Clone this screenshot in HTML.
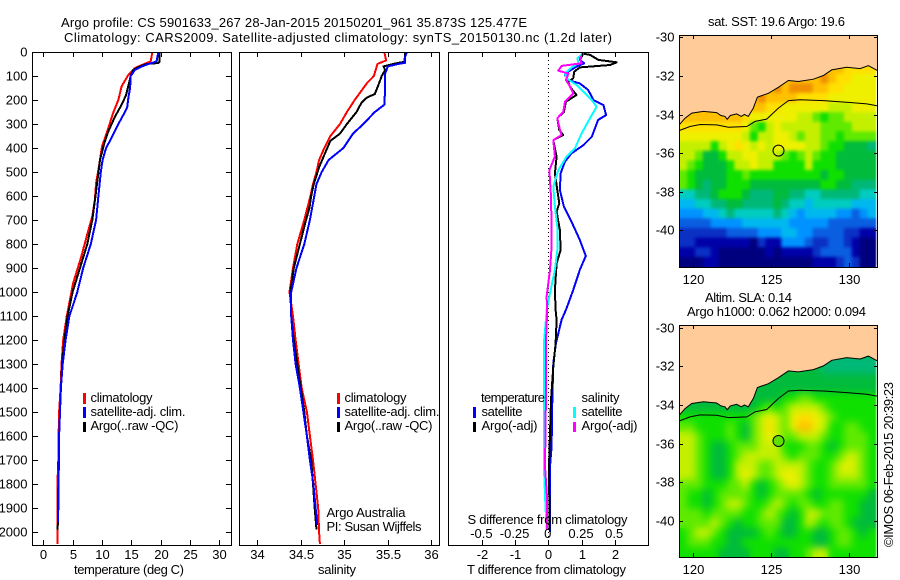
<!DOCTYPE html>
<html>
<head>
<meta charset="utf-8">
<title>Argo profile</title>
<style>
html,body{margin:0;padding:0;background:#fff}
svg{display:block}
text{font-family:"Liberation Sans",sans-serif;font-size:13px;fill:#000}
.frame{fill:none;stroke:#000;stroke-width:1;shape-rendering:crispEdges}
.tick{stroke:#000;stroke-width:1;shape-rendering:crispEdges}
.prof{fill:none;stroke-width:2;shape-rendering:crispEdges;stroke-linejoin:round}
</style>
</head>
<body>
<svg id="chart" xmlns="http://www.w3.org/2000/svg" width="900" height="580" viewBox="0 0 900 580">
<defs>
<clipPath id="clip-temp"><rect x="33" y="52" width="198" height="493"/></clipPath>
<clipPath id="clip-sal"><rect x="240" y="52" width="199" height="493"/></clipPath>
<clipPath id="clip-diff"><rect x="449" y="52" width="199" height="493"/></clipPath>
<clipPath id="clip-sst"><rect x="679.5" y="35.5" width="197.5" height="231.5"/></clipPath>
<clipPath id="clip-sla"><rect x="679.5" y="325.5" width="197.5" height="231.5"/></clipPath>
<filter id="soft-sst" x="-5%" y="-5%" width="110%" height="110%" color-interpolation-filters="sRGB">
<feGaussianBlur in="SourceGraphic" stdDeviation="1.6" result="b"/>
<feMerge><feMergeNode in="SourceGraphic"/><feMergeNode in="b"/></feMerge>
</filter>
<filter id="soft-sla" x="-5%" y="-5%" width="110%" height="110%" color-interpolation-filters="sRGB">
<feGaussianBlur in="SourceGraphic" stdDeviation="4" result="b"/>
<feMerge><feMergeNode in="SourceGraphic"/><feMergeNode in="b"/></feMerge>
</filter>
</defs>
<text x="61" y="27" textLength="466" lengthAdjust="spacing">Argo profile: CS 5901633_267 28-Jan-2015 20150201_961 35.873S 125.477E</text>
<text x="64" y="42" textLength="548" lengthAdjust="spacing">Climatology: CARS2009. Satellite-adjusted climatology: synTS_20150130.nc (1.2d later)</text>

<g id="map-sst"></g>
<g id="map-sla"></g>
<g id="lines-temp" clip-path="url(#clip-temp)"></g>
<g id="lines-sal" clip-path="url(#clip-sal)"></g>
<g id="lines-diff" clip-path="url(#clip-diff)"></g>
<g id="axes"></g>

<rect class="frame" x="32.5" y="52.5" width="199" height="493"/>
<rect class="frame" x="239.5" y="52.5" width="200" height="493"/>
<rect class="frame" x="448.5" y="52.5" width="200" height="493"/>
<rect class="frame" x="679.5" y="35.5" width="198" height="232"/>
<rect class="frame" x="679.5" y="325.5" width="198" height="232"/>

<text x="74" y="574" textLength="110" lengthAdjust="spacing">temperature (deg C)</text>
<text x="318" y="574" textLength="38" lengthAdjust="spacing">salinity</text>
<text x="467" y="574" textLength="159" lengthAdjust="spacing">T difference from climatology</text>
<text x="467.5" y="524" textLength="160" lengthAdjust="spacing">S difference from climatology</text>

<g>
<rect x="83" y="393" width="3" height="11" fill="#f00"/>
<text x="90.5" y="402" textLength="62" lengthAdjust="spacing">climatology</text>
<rect x="83" y="407" width="3" height="11" fill="#00f"/>
<text x="90.5" y="416" textLength="95" lengthAdjust="spacing">satellite-adj. clim.</text>
<rect x="83" y="422" width="3" height="10" fill="#000"/>
<text x="90.5" y="430" textLength="88" lengthAdjust="spacing">Argo(..raw -QC)</text>
</g>
<g>
<rect x="337" y="393" width="3" height="11" fill="#f00"/>
<text x="344.5" y="402" textLength="62" lengthAdjust="spacing">climatology</text>
<rect x="337" y="407" width="3" height="11" fill="#00f"/>
<text x="344.5" y="416" textLength="95" lengthAdjust="spacing">satellite-adj. clim.</text>
<rect x="337" y="422" width="3" height="10" fill="#000"/>
<text x="344.5" y="430" textLength="88" lengthAdjust="spacing">Argo(..raw -QC)</text>
<text x="326.5" y="517" textLength="79" lengthAdjust="spacing">Argo Australia</text>
<text x="326.5" y="531" textLength="95" lengthAdjust="spacing">PI: Susan Wijffels</text>
</g>
<g>
<text x="481" y="402" textLength="64" lengthAdjust="spacing">temperature</text>
<rect x="473" y="407" width="3" height="11" fill="#00f"/>
<text x="481.5" y="416" textLength="41" lengthAdjust="spacing">satellite</text>
<rect x="473" y="422" width="3" height="10" fill="#000"/>
<text x="481.5" y="430" textLength="56" lengthAdjust="spacing">Argo(-adj)</text>
<text x="581.5" y="402" textLength="38" lengthAdjust="spacing">salinity</text>
<rect x="573" y="407" width="3" height="11" fill="#0ff"/>
<text x="581.5" y="416" textLength="41" lengthAdjust="spacing">satellite</text>
<rect x="573" y="422" width="3" height="10" fill="#f0f"/>
<text x="581.5" y="430" textLength="56" lengthAdjust="spacing">Argo(-adj)</text>
</g>

<text x="708" y="26" textLength="137" lengthAdjust="spacing">sat. SST: 19.6 Argo: 19.6</text>
<text x="705" y="302" textLength="87" lengthAdjust="spacing">Altim. SLA: 0.14</text>
<text x="687" y="316" textLength="179" lengthAdjust="spacing">Argo h1000: 0.062 h2000: 0.094</text>
<text transform="translate(893,547) rotate(-90)" x="0" y="0" textLength="165" lengthAdjust="spacing">©IMOS 06-Feb-2015 20:39:23</text>
</svg>
<script>
// ---- profile data: depths in metres ----
var tempClimDepth=[0,39,46,67,95,143,199,254,338,393,476,546,615,685,754,851,962,1018,1100,1200,1300,1400,1500,1600,1700,1800,1900,2000,2050];
var tempClimValue=[18.6,18.3,17.6,15.6,14.5,13.35,12.8,11.9,10.8,10,9.5,9,8.8,8.35,7.55,6.5,5.1,4.66,4,3.4,3.1,2.95,2.7,2.6,2.55,2.4,2.4,2.4,2.4];
var tempArgoDepth=[0,40,46,50,60,75,100,140,180,220,270,330,380,450,520,600,700,800,900,1000,1100,1200,1300,1400,1500,1600,1700,1800,1900,1990];
var tempArgoValue=[19.8,19.8,19.6,17.6,16.5,15.3,14.9,14.5,14.1,13.35,12.2,11.1,10.4,9.66,9.3,8.9,8.35,7.5,6.25,5,4.15,3.6,3.2,3,2.85,2.7,2.65,2.55,2.5,2.45];
var tempSatDepth=[0,40,50,60,75,100,150,190,230,250,300,350,400,450,500,600,700,800,900,1000,1030,1100,1200,1300,1400,1500,1600,1700,1800,1900,1960];
var tempSatValue=[19.6,19.3,17.9,16.8,15.6,14.9,14.8,14.5,14.3,13.9,12.8,11.8,10.7,10.1,9.8,9.4,9,8.1,6.8,5.8,5.4,4.45,3.8,3.3,3,2.85,2.7,2.7,2.55,2.55,2.5];

var salClimDepth=[0,35,50,100,130,200,250,300,350,400,450,500,550,600,700,750,800,900,1000,1100,1200,1300,1400,1500,1600,1700,1800,1900,2000,2050];
var salClimValue=[35.46,35.48,35.38,35.34,35.26,35.12,35.03,34.95,34.84,34.77,34.71,34.68,34.64,34.61,34.54,34.5,34.46,34.41,34.37,34.41,34.44,34.475,34.51,34.57,34.605,34.64,34.67,34.7,34.71,34.72];
var salArgoDepth=[0,40,50,60,75,100,130,175,190,210,250,300,340,370,420,480,550,600,650,700,800,900,1000,1100,1200,1300,1400,1500,1600,1700,1800,1900,1990];
var salArgoValue=[35.7,35.7,35.56,35.45,35.47,35.43,35.4,35.35,35.26,35.2,35.14,35.03,34.95,34.84,34.78,34.71,34.65,34.62,34.6,34.56,34.49,34.42,34.38,34.39,34.42,34.46,34.5,34.54,34.57,34.62,34.64,34.66,34.68];
var salSatDepth=[0,30,45,50,60,90,150,220,250,300,340,400,450,500,550,600,700,800,900,1000,1100,1200,1300,1400,1500,1600,1700,1800,1900,1970];
var salSatValue=[35.72,35.69,35.7,35.62,35.5,35.47,35.47,35.46,35.35,35.22,35.1,34.99,34.82,34.74,34.68,34.655,34.605,34.54,34.45,34.39,34.39,34.41,34.44,34.49,34.53,34.57,34.605,34.645,34.67,34.69];

var diffTSatDepth=[6,33,47,61,82,96,117,131,158,200,221,263,283,353,388,422,457,506,575,644,707,783,850,908,992,1075,1116,1214,1297,1450,1644,1728,1867,1999];
var diffTSatValue=[1.06,.95,1.08,.85,.6,.5,.6,.95,1.2,1.36,1.66,1.74,1.5,1.31,1.06,.7,.5,.37,.35,.47,.7,.95,1.13,.95,.75,.53,.4,.23,.15,.12,.1,.05,.05,.05];
var diffTArgoDepth=[6,12,33,43,54,64,82,110,124,144,179,207,249,276,325,346,367,436,506,575,631,665,742,825,881,992,1075,1116,1214,1311,1450,1589,1728,1867,1992];
var diffTArgoValue=[1,1.26,1.51,2.06,1.86,.95,.78,.75,.6,.65,.85,.53,.47,.27,.33,.45,.15,.25,.2,.27,.33,.25,.35,.37,.25,.2,.22,.25,.22,.15,.08,.05,.02,.03,.03];
var diffSSatDepth=[6,26,47,64,89,110,138,165,200,228,276,339,401,436,492,561,644,728,825,908,1006,1075,1116,1214,1450,1728,1867,1992];
var diffSSatValue=[.264,.219,.226,.176,.126,.138,.214,.264,.327,.364,.314,.251,.201,.138,.075,.038,.05,.068,.068,.05,.013,-.013,-.018,-.033,-.033,-.033,-.023,-.013];
var diffSArgoDepth=[6,26,47,54,58,78,89,117,138,172,207,249,276,325,346,367,436,492,603,742,811,908,1019,1075,1214,1450,1728,1867,1992];
var diffSArgoValue=[.264,.239,.251,.151,.1,.075,.151,.133,.158,.188,.126,.113,.068,.088,.1,.038,.05,.008,.02,.025,.025,.013,-.013,-.008,-.018,-.018,-.025,-.008,-.008];

// ---- tick labels ----
var depthTicks=[0,100,200,300,400,500,600,700,800,900,1000,1100,1200,1300,1400,1500,1600,1700,1800,1900,2000];
var tempTicks=[0,5,10,15,20,25,30];
var salTicks=["34","34.5","35","35.5","36"];
var diffTTicks=["-2","-1","0","1","2"];
var diffSTicks=["-0.5","-0.25","0","0.25","0.5"];
var lonTicks=[120,125,130];
var latTicks=[-30,-32,-34,-36,-38,-40];

// ---- coast and shelf-edge ----
var coastLon=[119.15,119.51,119.94,120.68,121.53,121.8,122.06,122.2,122.4,122.81,123.1,123.3,123.55,123.87,124.13,124.83,125.47,126.11,126.74,127.7,128.34,128.87,129.83,130.68,131.21,131.79];
var coastLat=[-34.53,-34.19,-33.93,-33.84,-33.9,-34.05,-34.1,-34.25,-34.05,-33.97,-34.1,-34.0,-34.1,-33.67,-33.1,-32.9,-32.59,-32.24,-32.29,-32.17,-31.98,-31.69,-31.55,-31.62,-31.47,-31.72];
var shelfLon=[119.15,119.83,120.47,121.53,122.28,123.45,123.98,124.72,125.47,126.11,126.85,128.34,130.04,131.11,131.79];
var shelfLat=[-34.83,-34.62,-34.52,-34.54,-34.66,-34.62,-34.36,-34.24,-33.67,-33.28,-33.24,-33.28,-33.38,-33.45,-33.55];
var floatLon=125.477;
var floatLat=-35.873;

// ---- gridded fields, colour-level per 0.5-degree cell, north to south ----
var sstRows=[
[14,14,14,14,14,14,14,14,14,14,14,14,14,14,14,14,14,14,14,14,14,14,14,14,14],
[14,14,14,14,14,14,14,14,14,14,14,14,14,14,14,14,14,14,14,14,14,14,14,14,14],
[14,14,14,14,14,14,14,14,14,14,14,14,14,14,14,14,14,14,14,14,14,14,14,14,14],
[14,14,14,14,14,14,14,14,14,14,14,14,14,14,14,14,14,14,14,14,14,13,13,13,13],
[14,14,14,14,14,14,14,14,14,14,14,14,14,14,14,14,14,14,15,14,13,13,12,12,12],
[14,14,14,14,14,14,14,14,14,14,14,14,15,14,15,15,15,14,14,13,13,12,12,12,12],
[14,14,14,14,14,14,14,14,14,14,15,14,14,14,14,13,13,13,13,12,12,12,12,12,12],
[14,14,14,14,14,14,14,14,14,14,14,13,13,12,12,12,12,12,12,11,11,11,12,12,12],
[14,14,14,14,14,14,14,14,13,12,12,12,12,12,12,11,11,10,9,10,10,11,11,11,11],
[13,13,13,13,13,13,13,13,12,10,9,11,12,11,11,11,11,11,10,10,10,10,11,11,11],
[12,12,12,12,12,12,12,12,11,9,11,11,12,12,11,10,11,11,10,10,9,10,10,10,10],
[11,11,11,11,9,11,12,13,12,11,12,11,12,12,12,12,11,11,10,9,9,8,8,8,7],
[11,11,10,8,8,9,11,11,12,12,11,11,11,10,9,10,11,10,9,9,8,8,8,8,8],
[11,10,9,8,8,8,9,11,11,12,11,11,9,9,9,9,11,9,9,9,8,8,8,8,8],
[10,9,8,8,8,8,9,9,10,9,9,9,9,9,9,9,9,9,8,9,9,8,8,8,8],
[10,9,8,7,8,8,9,9,9,8,8,8,8,8,8,8,8,8,9,9,8,8,7,7,7],
[6,6,7,7,8,9,9,9,8,7,7,7,8,8,7,7,6,6,7,7,7,7,7,6,6],
[5,5,6,6,7,7,8,8,7,7,7,7,8,7,6,6,5,6,6,6,6,6,5,5,5],
[4,4,4,5,5,6,7,6,6,6,6,6,7,6,5,4,5,5,5,5,4,4,3,4,5],
[3,3,3,3,4,4,4,4,5,5,5,5,5,5,4,4,4,4,4,3,3,3,3,3,3],
[2,2,2,2,2,2,3,3,3,3,4,4,4,5,5,4,4,3,3,3,3,2,2,1,1],
[2,2,1,1,1,1,1,1,1,0,2,1,1,4,4,4,3,2,2,3,3,2,1,0,0],
[1,1,2,2,1,0,0,0,0,0,0,1,0,1,1,1,1,2,3,3,3,3,1,0,0],
[0,0,0,1,1,0,0,0,0,0,0,0,0,0,0,0,0,1,1,1,2,3,2,0,0]
];
var slaRows=[
[8,8,8,8,8,8,8,8,8,8,8,8,8,8,8,8,8,8,8,8,8,8,8,8,8],
[8,8,8,8,8,8,8,8,8,8,8,8,8,8,8,8,8,8,8,8,8,8,8,8,8],
[8,8,8,8,8,8,8,8,8,8,8,8,8,8,8,8,8,8,8,8,8,8,8,8,8],
[8,8,8,8,8,8,8,8,8,8,8,8,8,8,8,8,8,8,8,7,7,7,7,7,7],
[8,8,8,8,8,8,8,8,8,8,8,8,8,8,8,8,8,8,7,7,7,7,7,7,7],
[8,8,8,8,8,8,8,8,8,8,8,8,8,8,8,8,8,8,8,8,8,8,8,8,8],
[8,8,8,8,8,8,8,8,8,8,8,8,8,8,8,8,8,8,8,8,8,8,8,8,8],
[8,8,8,8,8,8,8,8,8,8,8,8,8,9,9,10,10,9,9,9,9,9,9,9,9],
[8,8,8,8,8,8,8,8,8,8,9,10,9,10,11,11,11,11,10,9,9,9,9,9,9],
[9,9,9,9,9,9,9,9,9,10,11,12,11,10,12,13,13,12,11,10,9,9,9,9,9],
[10,10,9,9,9,9,10,9,8,10,11,13,11,10,12,14,14,12,11,9,9,10,10,9,9],
[11,11,10,9,9,9,10,9,8,10,11,12,11,10,10,11,11,11,10,9,9,10,10,10,9],
[11,11,10,9,8,8,9,10,10,10,11,11,11,9,9,9,10,10,9,8,9,10,10,10,9],
[11,11,10,9,8,8,9,10,11,11,11,11,11,10,9,10,10,10,9,9,10,11,11,10,9],
[11,11,10,9,8,8,9,11,11,11,10,10,11,11,11,11,10,9,9,10,11,12,11,10,9],
[11,11,10,9,8,8,9,11,12,11,10,10,11,12,12,11,10,9,9,10,11,11,11,10,9],
[10,10,10,9,9,9,10,10,11,9,8,9,10,11,12,11,10,9,9,10,10,10,10,10,9],
[10,9,9,8,9,10,10,10,10,9,8,9,10,10,10,10,9,8,9,9,9,9,9,9,8],
[10,9,9,8,9,10,11,11,10,9,9,10,11,10,9,10,10,9,9,10,10,9,9,8,8],
[10,10,10,9,10,10,10,10,9,9,10,11,10,9,8,9,11,11,10,10,10,9,9,8,8],
[10,10,10,10,11,10,9,8,9,9,10,10,10,8,8,9,11,10,9,10,10,9,8,8,8],
[9,10,11,11,10,9,8,8,8,8,9,10,9,8,8,9,9,8,8,9,10,10,9,8,9],
[9,10,10,10,9,9,8,8,9,9,9,9,9,9,9,9,9,8,8,9,10,10,9,9,9],
[9,9,9,9,9,8,8,8,8,9,9,9,8,8,9,9,10,11,11,9,9,9,9,9,9]
];

var SVGNS="http://www.w3.org/2000/svg";
var palette=["#00007f","#0000a8","#0a30c4","#0a5ee0","#0092ff","#00b8f0","#00ccc0","#00b878","#00bb3c","#10e000","#60ea00","#c4f000","#eef000","#ffe000","#ffc000","#f09000"];
function make(tag,parent,attrs){
  var el=document.createElementNS(SVGNS,tag);
  for(var k in attrs){el.setAttribute(k,attrs[k]);}
  parent.appendChild(el);
  return el;
}
// axis functions
function yDepth(d){return 52+0.24*d;}
function xTemp(t){return 43.3+5.867*t;}
function xSal(s){return 257.3+87*(s-34);}
function xDiffT(t){return 548.3+33.2*t;}
function xDiffS(s){return xDiffT(s*4);}
function xLon(l){return 692.7+15.67*(l-120);}
function yLatSst(l){return 37.3-19.3*(l+30);}
function yLatSla(l){return 327.7-19.3*(l+30);}

function drawProfile(parent,xFn,vals,depths,color,name){
  var pts=[];
  for(var i=0;i<vals.length;i++){pts.push(xFn(vals[i]).toFixed(1)+","+yDepth(depths[i]).toFixed(1));}
  var line=make("polyline",parent,{"class":"prof",points:pts.join(" "),stroke:color});
  
  
}
var gT=document.getElementById("lines-temp");
drawProfile(gT,xTemp,tempClimValue,tempClimDepth,"#f00","temperature-climatology-line");
drawProfile(gT,xTemp,tempArgoValue,tempArgoDepth,"#000","temperature-argo-line");
drawProfile(gT,xTemp,tempSatValue,tempSatDepth,"#00f","temperature-satellite-line");
var gS=document.getElementById("lines-sal");
drawProfile(gS,xSal,salClimValue,salClimDepth,"#f00","salinity-climatology-line");
drawProfile(gS,xSal,salArgoValue,salArgoDepth,"#000","salinity-argo-line");
drawProfile(gS,xSal,salSatValue,salSatDepth,"#00f","salinity-satellite-line");
var gD=document.getElementById("lines-diff");
var zero=make("line",gD,{x1:xDiffT(0),x2:xDiffT(0),y1:52,y2:545,stroke:"#000","stroke-width":1,"stroke-dasharray":"1 3","shape-rendering":"crispEdges"});


drawProfile(gD,xDiffT,diffTSatValue,diffTSatDepth,"#00f","t-difference-satellite-line");
drawProfile(gD,xDiffT,diffTArgoValue,diffTArgoDepth,"#000","t-difference-argo-line");
drawProfile(gD,xDiffS,diffSSatValue,diffSSatDepth,"#0ff","s-difference-satellite-line");
drawProfile(gD,xDiffS,diffSArgoValue,diffSArgoDepth,"#f0f","s-difference-argo-line");

// ---- axes ----
var axes=document.getElementById("axes");
function tick(x1,y1,x2,y2){
  var t=make("line",axes,{"class":"tick",x1:x1,y1:y1,x2:x2,y2:y2});
  
  
}
function label(x,y,str,anchor,name){
  var t=make("text",axes,{x:x,y:y,"text-anchor":anchor});
  t.textContent=str;
  
  
}
depthTicks.forEach(function(d){
  var y=Math.round(yDepth(d))+0.5;
  tick(32,y,38,y);
  tick(226,y,232,y);
  label(27.5,y+4,String(d),"end","depth-tick-label");
});
function xTicks(list,xFn,l,r){
  list.forEach(function(v){
    var x=Math.round(xFn(+v))+0.5;
    tick(x,52,x,57);
    tick(x,540,x,545);
    label(x,559,String(v),"middle",l);
  });
}
xTicks(tempTicks,xTemp,"temperature-tick-label");
xTicks(salTicks,xSal,"salinity-tick-label");
xTicks(diffTTicks,xDiffT,"t-difference-tick-label");
diffSTicks.forEach(function(v){
  label(xDiffS(+v)-0.5,538,v,"middle","s-difference-tick-label");
});

// ---- maps ----
function drawMap(groupId,rows,yLat,clip,prefix,top,bottom,markerFill,softId){
  var g=document.getElementById(groupId);
  var inner=make("g",g,{"clip-path":"url(#"+clip+")"});
  var cells=make("g",inner,{filter:"url(#"+softId+")"});
  
  
  var lon0=119.15, lat0=-29.88, step=0.5;
  rows.forEach(function(row,j){
    row.forEach(function(level,i){
      var x0=xLon(lon0+i*step), x1=xLon(lon0+(i+1)*step);
      var y0=yLat(lat0-j*step), y1=yLat(lat0-(j+1)*step);
      var c=make("rect",cells,{x:x0.toFixed(2),y:y0.toFixed(2),width:(x1-x0+0.4).toFixed(2),height:(y1-y0+0.4).toFixed(2),fill:palette[level]});
      
      
    });
  });
  var pts=[];
  for(var i=0;i<coastLon.length;i++){pts.push(xLon(coastLon[i]).toFixed(1)+","+yLat(coastLat[i]).toFixed(1));}
  var land=make("polygon",inner,{points:"878,"+top+" 679,"+top+" "+pts.join(" ")+" 878,"+yLat(coastLat[coastLat.length-1]).toFixed(1),fill:"#ffcc99"});
  
  
  var coast=make("polyline",inner,{points:pts.join(" "),fill:"none",stroke:"#000","stroke-width":1});
  
  
  var spts=[];
  for(var k=0;k<shelfLon.length;k++){spts.push(xLon(shelfLon[k]).toFixed(1)+","+yLat(shelfLat[k]).toFixed(1));}
  var shelf=make("polyline",inner,{points:spts.join(" "),fill:"none",stroke:"#000","stroke-width":1});
  
  
  var m=make("circle",inner,{cx:xLon(floatLon).toFixed(1),cy:yLat(floatLat).toFixed(1),r:5.5,fill:markerFill,stroke:"#000","stroke-width":1});
  
  
  lonTicks.forEach(function(v){
    var x=Math.round(xLon(v))+0.5;
    tick(x,top,x,top+4);
    tick(x,bottom-4,x,bottom);
    label(x,bottom+17,String(v),"middle",prefix+"-longitude-label");
  });
  latTicks.forEach(function(v){
    var y=Math.round(yLat(v))+0.5;
    tick(679,y,683,y);
    tick(874,y,878,y);
    label(674.5,y+4,String(v),"end",prefix+"-latitude-label");
  });
}
drawMap("map-sst",sstRows,yLatSst,"clip-sst","sst",35,267,"none","soft-sst");
drawMap("map-sla",slaRows,yLatSla,"clip-sla","sla",325,557,"#60e000","soft-sla");
</script>
</body>
</html>
